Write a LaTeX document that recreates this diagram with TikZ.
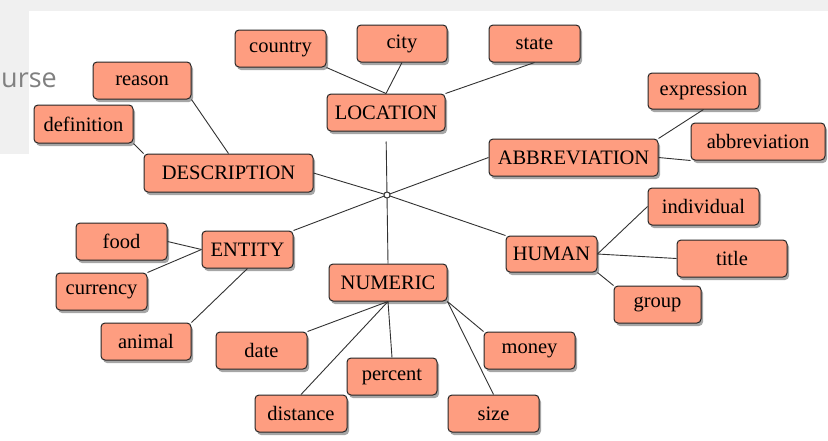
\documentclass[tikz,border=0pt]{standalone}
\usepackage{fontspec}
\setmainfont{Liberation Serif}
\newfontfamily\uisans{Open Sans}
\usetikzlibrary{shadows}
\definecolor{salmon}{RGB}{254,157,128}
\definecolor{bggray}{RGB}{240,240,240}
\definecolor{linecol}{RGB}{50,50,50}
\begin{document}
\begin{tikzpicture}[x=1pt,y=-1pt,
  box/.style={draw=black!85, line width=1pt, fill=salmon, rounded corners=4pt,
    inner sep=0pt, minimum height=37pt, minimum width=91pt,
    font=\fontsize{20.5}{22}\selectfont, text=black,
    drop shadow={shadow xshift=2pt, shadow yshift=-3pt, opacity=0.35, fill=black}},
  conn/.style={draw=linecol, line width=0.9pt},
  hubnode/.style={circle, draw=linecol, fill=white, line width=0.9pt, inner sep=0pt, minimum size=6pt}]
\useasboundingbox (0,0) rectangle (828,440);
% background (screenshot artefact)
\fill[white] (0,0) rectangle (828,440);
\fill[bggray] (0,0) rectangle (828,11);
\fill[bggray] (0,0) rectangle (29,154);
\node[anchor=base east, inner sep=0pt, text=black!50, font=\uisans\fontsize{27}{30}\selectfont] (urse) at (57,87) {urse};

% hub
\node[hubnode] (hub) at (387,195) {};

% nodes
\node[box] (country) at (280.5,48.5) {country};
\node[box, minimum width=90pt] (city) at (402,43.5) {city};
\node[box] (state) at (534.5,43.5) {state};
\node[box, minimum width=98pt] (reason) at (142,80.5) {reason};
\node[box, minimum width=99pt, minimum height=38pt] (definition) at (83.5,124) {definition};
\node[box, minimum width=118pt] (loc) at (386,112.5) {LOCATION};
\node[box, minimum width=169pt, minimum height=38pt] (desc) at (228.5,173) {DESCRIPTION};
\node[box, minimum width=111pt, minimum height=36pt] (expression) at (703.5,91) {expression};
\node[box, minimum width=134pt] (abbreviation) at (758,141.5) {abbreviation};
\node[box, minimum width=169pt] (abbr) at (573.5,157.5) {ABBREVIATION};
\node[box, minimum width=111pt] (individual) at (703.5,206.5) {individual};
\node[box] (food) at (121.5,241.5) {food};
\node[box] (entity) at (247.5,249.5) {ENTITY};
\node[box, minimum height=36pt] (human) at (551.5,254) {HUMAN};
\node[box, minimum width=110pt] (title) at (732,258.5) {title};
\node[box] (currency) at (101.5,291.5) {currency};
\node[box, minimum width=118pt] (numeric) at (388,282.5) {NUMERIC};
\node[box, minimum width=87pt] (group) at (657.5,304.5) {group};
\node[box, minimum width=90pt] (animal) at (146,341.5) {animal};
\node[box] (date) at (261.5,350.5) {date};
\node[box] (money) at (529.5,350.5) {money};
\node[box, minimum width=90pt] (percent) at (392,376.5) {percent};
\node[box, minimum width=92pt] (distance) at (301,413.5) {distance};
\node[box] (size) at (493.5,413.5) {size};

% connectors
\draw[conn] (country.south east) -- (loc.north);
\draw[conn] (city.south) -- (loc.north);
\draw[conn] (state.south) -- (loc.north east);
\draw[conn] (reason.south east) -- (desc.north);
\draw[conn] (definition.south east) -- (desc.north west);
\draw[conn] (expression.south) -- (abbr.north east);
\draw[conn] (abbreviation.south west) -- (abbr.east);
\draw[conn] (food.east) -- (entity.west);
\draw[conn] (currency.north east) -- (entity.west);
\draw[conn] (animal.north east) -- (entity.south);
\draw[conn] (date.north east) -- (numeric.south);
\draw[conn] (distance.north) -- (numeric.south);
\draw[conn] (percent.north) -- (numeric.south);
\draw[conn] (money.north west) -- (numeric.south east);
\draw[conn] (size.north) -- (numeric.south east);
\draw[conn] (individual.west) -- (human.east);
\draw[conn] (title.west) -- (human.east);
\draw[conn] (group.north west) -- (human.south east);
\draw[conn, shorten >=10pt] (hub) -- (loc.south);
\draw[conn] (hub) -- (desc.east);
\draw[conn] (hub) -- (abbr.west);
\draw[conn] (hub) -- (entity.north east);
\draw[conn] (hub) -- (numeric.north);
\draw[conn] (hub) -- (human.north west);
\node[hubnode] at (hub) {};
\end{tikzpicture}
\end{document}
